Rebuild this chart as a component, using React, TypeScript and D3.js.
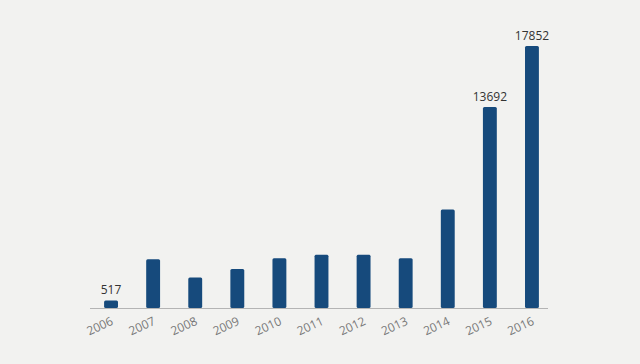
import React, { useEffect, useRef } from 'react';
import * as d3 from 'd3';

const years = ['2006', '2007', '2008', '2009', '2010', '2011', '2012', '2013', '2014', '2015', '2016'];
const values = [517, 3320, 2070, 2660, 3390, 3630, 3630, 3390, 6720, 13692, 17852];
const labelled = ['2006', '2015', '2016'];

const App = () => {
  const svgRef = useRef<SVGSVGElement>(null);

  useEffect(() => {
    const data = years.map((y, i) => ({ label: y, value: values[i] }));
    const svg = d3.select(svgRef.current);
    svg.selectAll('*').remove();

    const x = d3.scaleBand().domain(years).range([90, 553]).paddingInner(0.67).paddingOuter(0.335);
    const y = d3.scaleLinear().domain([0, 17852]).range([308, 46]);

    svg.append('rect').attr('width', 640).attr('height', 364).attr('fill', '#f2f2f0');

    // bars
    svg.selectAll('rect.bar')
      .data(data)
      .enter()
      .append('rect')
      .attr('class', 'bar')
      .attr('x', d => x(d.label)!)
      .attr('y', d => y(d.value))
      .attr('width', x.bandwidth())
      .attr('height', d => y(0) - y(d.value))
      .attr('rx', 1.5)
      .attr('fill', '#164a7c');

    // baseline
    svg.append('line')
      .attr('x1', x.range()[0])
      .attr('x2', x.range()[1] - 5)
      .attr('y1', y(0) + 0.5)
      .attr('y2', y(0) + 0.5)
      .attr('stroke', '#b4b4b4')
      .attr('stroke-width', 1);

    // value labels
    svg.selectAll('text.value')
      .data(data.filter(d => labelled.includes(d.label)))
      .enter()
      .append('text')
      .attr('class', 'value')
      .attr('x', d => x(d.label)! + x.bandwidth() / 2)
      .attr('y', d => y(d.value) - 6)
      .attr('text-anchor', 'middle')
      .attr('font-family', 'Open Sans, sans-serif')
      .attr('font-size', '12px')
      .attr('fill', '#333')
      .text(d => d.value);

    // year labels
    svg.selectAll('text.label')
      .data(data)
      .enter()
      .append('text')
      .attr('class', 'label')
      .attr('transform', d => `translate(${x(d.label)! + x.bandwidth() / 2 + 3},${y(0) + 16}) rotate(-25)`)
      .attr('text-anchor', 'end')
      .attr('font-family', 'Open Sans, sans-serif')
      .attr('font-size', '12px')
      .attr('fill', '#777')
      .text(d => d.label);
  }, []);

  return (
    <svg ref={svgRef} width={640} height={364} style={{ position: 'absolute', left: 0, top: 0 }}></svg>
  );
};

export default App;
